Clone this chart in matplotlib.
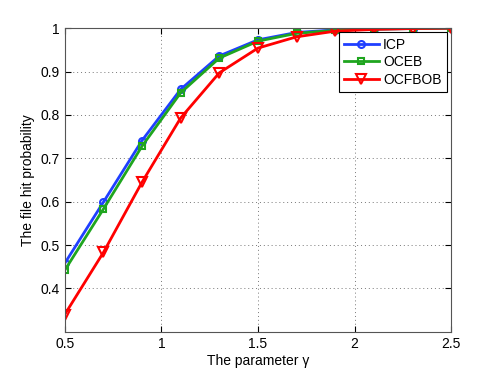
import matplotlib
matplotlib.use('Agg')
import matplotlib.pyplot as plt

plt.rcParams['font.family'] = ['Liberation Sans', 'DejaVu Sans']

gamma = [0.5, 0.7, 0.9, 1.1, 1.3, 1.5, 1.7, 1.9, 2.1, 2.3, 2.5]
icp = [0.458, 0.599, 0.741, 0.859, 0.936, 0.973, 0.990, 0.996, 0.998, 0.999, 1.0]
oceb = [0.442, 0.583, 0.728, 0.851, 0.931, 0.970, 0.988, 0.995, 0.998, 0.999, 1.0]
ocfbob = [0.340, 0.483, 0.645, 0.793, 0.897, 0.954, 0.980, 0.993, 0.997, 0.999, 1.0]

fig = plt.figure(figsize=(4.98, 3.75), dpi=100)
ax = fig.add_axes([0.13, 0.115, 0.776, 0.81])

ax.plot(gamma, icp, color='#1f3fff', marker='o', mfc='none', ms=5, mew=1.5, lw=2, label='ICP')
ax.plot(gamma, oceb, color='#1fa51f', marker='s', mfc='none', ms=5, mew=1.5, lw=2, label='OCEB')
ax.plot(gamma, ocfbob, color='#ff0000', marker='v', mfc='none', ms=6.5, mew=1.5, lw=2, label='OCFBOB')

ax.set_xlim(0.5, 2.5)
ax.set_ylim(0.3, 1.0)
ax.set_xticks([0.5, 1, 1.5, 2, 2.5])
ax.set_xticklabels(['0.5', '1', '1.5', '2', '2.5'])
ax.set_yticks([0.4, 0.5, 0.6, 0.7, 0.8, 0.9, 1.0])
ax.set_yticklabels(['0.4', '0.5', '0.6', '0.7', '0.8', '0.9', '1'])
ax.grid(True, linestyle=(0, (1, 3)), color='#777777', linewidth=0.7)
ax.tick_params(direction='in', labelsize=10, length=4, top=True, right=True, labeltop=False, labelright=False)
for s in ax.spines.values():
    s.set_color('#555555')

ax.set_xlabel('The parameter γ', fontsize=10, labelpad=2)
ax.set_ylabel('The file hit probability', fontsize=10)

leg = ax.legend(loc='upper right', fontsize=10, fancybox=False, edgecolor='black',
                borderaxespad=0.3, handlelength=2.5, handletextpad=0.3, labelspacing=0.25,
                framealpha=1, borderpad=0.4)
leg.get_frame().set_linewidth(0.8)

fig.savefig('out.png', dpi=100)
